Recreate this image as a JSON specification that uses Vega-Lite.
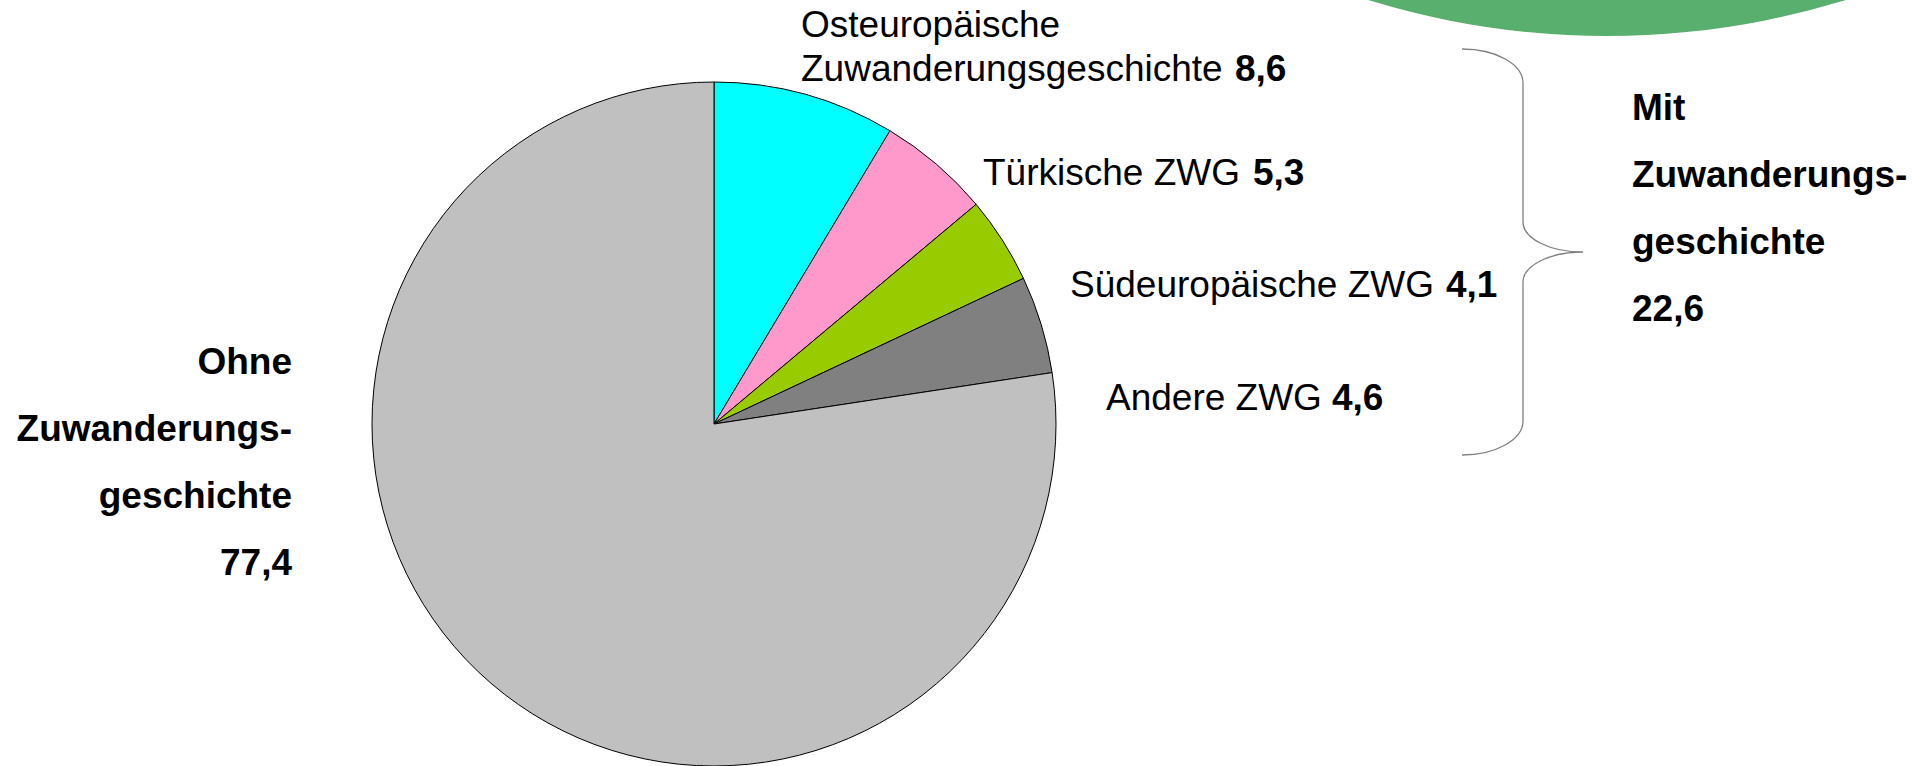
{
  "$schema": "https://vega.github.io/schema/vega-lite/v6.json",
  "autosize": {"type": "none"},
  "width": 1930,
  "height": 766,
  "padding": 0,
  "background": "white",
  "data": {
    "values": [
      {"nr": 1, "gruppe": "Osteuropäische Zuwanderungsgeschichte", "kurz": "Osteuropäische\nZuwanderungsgeschichte", "anteil": 8.6},
      {"nr": 2, "gruppe": "Türkische ZWG", "kurz": "Türkische ZWG", "anteil": 5.3},
      {"nr": 3, "gruppe": "Südeuropäische ZWG", "kurz": "Südeuropäische ZWG", "anteil": 4.1},
      {"nr": 4, "gruppe": "Andere ZWG", "kurz": "Andere ZWG", "anteil": 4.6},
      {"nr": 5, "gruppe": "Ohne Zuwanderungsgeschichte", "kurz": "Ohne Zuwanderungsgeschichte", "anteil": 77.4}
    ]
  },
  "layer": [
    {
      "data": {"values": [{}]},
      "mark": {"type": "point", "shape": "circle", "filled": true, "size": 2630884, "color": "#58AF6E", "opacity": 1, "strokeWidth": 0},
      "encoding": {
        "x": {"datum": 1607, "type": "quantitative", "scale": {"domain": [0, 1930], "nice": false, "zero": false}, "axis": null},
        "y": {"datum": -775, "type": "quantitative", "scale": {"domain": [766, 0], "nice": false, "zero": false}, "axis": null}
      }
    },
    {
      "mark": {"type": "arc", "radius": 342, "stroke": "#000000", "strokeWidth": 1},
      "encoding": {
        "x": {"datum": 714, "type": "quantitative", "axis": null},
        "y": {"datum": 424, "type": "quantitative", "axis": null},
        "theta": {"field": "anteil", "type": "quantitative", "stack": true},
        "order": {"field": "nr", "type": "quantitative"},
        "color": {
          "field": "gruppe",
          "type": "nominal",
          "legend": null,
          "scale": {
            "domain": ["Osteuropäische Zuwanderungsgeschichte", "Türkische ZWG", "Südeuropäische ZWG", "Andere ZWG", "Ohne Zuwanderungsgeschichte"],
            "range": ["#00FFFF", "#FF99CC", "#99CC00", "#808080", "#C0C0C0"]
          }
        }
      }
    },
    {
      "data": {"values": [{}]},
      "mark": {
        "type": "point",
        "shape": "M-0.3,-1 C-0.134,-1 0,-0.925 0,-0.833 L0,-0.148 C0,-0.066 0.133,0 0.296,0 C0.133,0 0,0.066 0,0.148 L0,0.833 C0,0.925 -0.134,1 -0.3,1",
        "filled": false,
        "size": 164836,
        "color": "#808080",
        "opacity": 1,
        "strokeWidth": 1.3
      },
      "encoding": {
        "x": {"datum": 1523, "type": "quantitative", "axis": null},
        "y": {"datum": 252, "type": "quantitative", "axis": null}
      }
    },
    {
      "transform": [{"filter": {"field": "nr", "equal": 1}}],
      "mark": {"type": "text", "align": "left", "baseline": "alphabetic", "font": "Liberation Sans", "fontSize": 37, "lineBreak": "\n", "lineHeight": 44, "color": "#000000"},
      "encoding": {
        "x": {"datum": 801, "type": "quantitative", "axis": null},
        "y": {"datum": 37, "type": "quantitative", "axis": null},
        "text": {"field": "kurz"}
      }
    },
    {
      "transform": [{"filter": {"field": "nr", "equal": 1}}],
      "mark": {"type": "text", "align": "left", "baseline": "alphabetic", "font": "Liberation Sans", "fontSize": 37, "fontWeight": "bold", "color": "#000000"},
      "encoding": {
        "x": {"datum": 1235, "type": "quantitative", "axis": null},
        "y": {"datum": 81, "type": "quantitative", "axis": null},
        "text": {"field": "anteil", "type": "quantitative", "format": ".1f"}
      }
    },
    {
      "transform": [{"filter": {"field": "nr", "equal": 2}}],
      "mark": {"type": "text", "align": "left", "baseline": "alphabetic", "font": "Liberation Sans", "fontSize": 37, "color": "#000000"},
      "encoding": {
        "x": {"datum": 983, "type": "quantitative", "axis": null},
        "y": {"datum": 185, "type": "quantitative", "axis": null},
        "text": {"field": "kurz"}
      }
    },
    {
      "transform": [{"filter": {"field": "nr", "equal": 2}}],
      "mark": {"type": "text", "align": "left", "baseline": "alphabetic", "font": "Liberation Sans", "fontSize": 37, "fontWeight": "bold", "color": "#000000"},
      "encoding": {
        "x": {"datum": 1253, "type": "quantitative", "axis": null},
        "y": {"datum": 185, "type": "quantitative", "axis": null},
        "text": {"field": "anteil", "type": "quantitative", "format": ".1f"}
      }
    },
    {
      "transform": [{"filter": {"field": "nr", "equal": 3}}],
      "mark": {"type": "text", "align": "left", "baseline": "alphabetic", "font": "Liberation Sans", "fontSize": 37, "color": "#000000"},
      "encoding": {
        "x": {"datum": 1070, "type": "quantitative", "axis": null},
        "y": {"datum": 297, "type": "quantitative", "axis": null},
        "text": {"field": "kurz"}
      }
    },
    {
      "transform": [{"filter": {"field": "nr", "equal": 3}}],
      "mark": {"type": "text", "align": "left", "baseline": "alphabetic", "font": "Liberation Sans", "fontSize": 37, "fontWeight": "bold", "color": "#000000"},
      "encoding": {
        "x": {"datum": 1446, "type": "quantitative", "axis": null},
        "y": {"datum": 297, "type": "quantitative", "axis": null},
        "text": {"field": "anteil", "type": "quantitative", "format": ".1f"}
      }
    },
    {
      "transform": [{"filter": {"field": "nr", "equal": 4}}],
      "mark": {"type": "text", "align": "left", "baseline": "alphabetic", "font": "Liberation Sans", "fontSize": 37, "color": "#000000"},
      "encoding": {
        "x": {"datum": 1106, "type": "quantitative", "axis": null},
        "y": {"datum": 410, "type": "quantitative", "axis": null},
        "text": {"field": "kurz"}
      }
    },
    {
      "transform": [{"filter": {"field": "nr", "equal": 4}}],
      "mark": {"type": "text", "align": "left", "baseline": "alphabetic", "font": "Liberation Sans", "fontSize": 37, "fontWeight": "bold", "color": "#000000"},
      "encoding": {
        "x": {"datum": 1332, "type": "quantitative", "axis": null},
        "y": {"datum": 410, "type": "quantitative", "axis": null},
        "text": {"field": "anteil", "type": "quantitative", "format": ".1f"}
      }
    },
    {
      "data": {"values": [{}]},
      "mark": {"type": "text", "align": "right", "baseline": "alphabetic", "font": "Liberation Sans", "fontSize": 37, "fontWeight": "bold", "lineHeight": 67, "color": "#000000"},
      "encoding": {
        "x": {"datum": 292, "type": "quantitative", "axis": null},
        "y": {"datum": 374, "type": "quantitative", "axis": null},
        "text": {"value": ["Ohne", "Zuwanderungs-", "geschichte"]}
      }
    },
    {
      "transform": [{"filter": {"field": "nr", "equal": 5}}],
      "mark": {"type": "text", "align": "right", "baseline": "alphabetic", "font": "Liberation Sans", "fontSize": 37, "fontWeight": "bold", "color": "#000000"},
      "encoding": {
        "x": {"datum": 292, "type": "quantitative", "axis": null},
        "y": {"datum": 575, "type": "quantitative", "axis": null},
        "text": {"field": "anteil", "type": "quantitative", "format": ".1f"}
      }
    },
    {
      "data": {"values": [{}]},
      "mark": {"type": "text", "align": "left", "baseline": "alphabetic", "font": "Liberation Sans", "fontSize": 37, "fontWeight": "bold", "lineHeight": 67, "color": "#000000"},
      "encoding": {
        "x": {"datum": 1632, "type": "quantitative", "axis": null},
        "y": {"datum": 120, "type": "quantitative", "axis": null},
        "text": {"value": ["Mit", "Zuwanderungs-", "geschichte"]}
      }
    },
    {
      "transform": [
        {"filter": {"field": "nr", "lte": 4}},
        {"aggregate": [{"op": "sum", "field": "anteil", "as": "summe"}]}
      ],
      "mark": {"type": "text", "align": "left", "baseline": "alphabetic", "font": "Liberation Sans", "fontSize": 37, "fontWeight": "bold", "color": "#000000"},
      "encoding": {
        "x": {"datum": 1632, "type": "quantitative", "axis": null},
        "y": {"datum": 321, "type": "quantitative", "axis": null},
        "text": {"field": "summe", "type": "quantitative", "format": ".1f"}
      }
    }
  ],
  "config": {
    "view": {"stroke": null},
    "locale": {"number": {"decimal": ",", "thousands": ".", "grouping": [3], "currency": ["", " €"]}}
  }
}
